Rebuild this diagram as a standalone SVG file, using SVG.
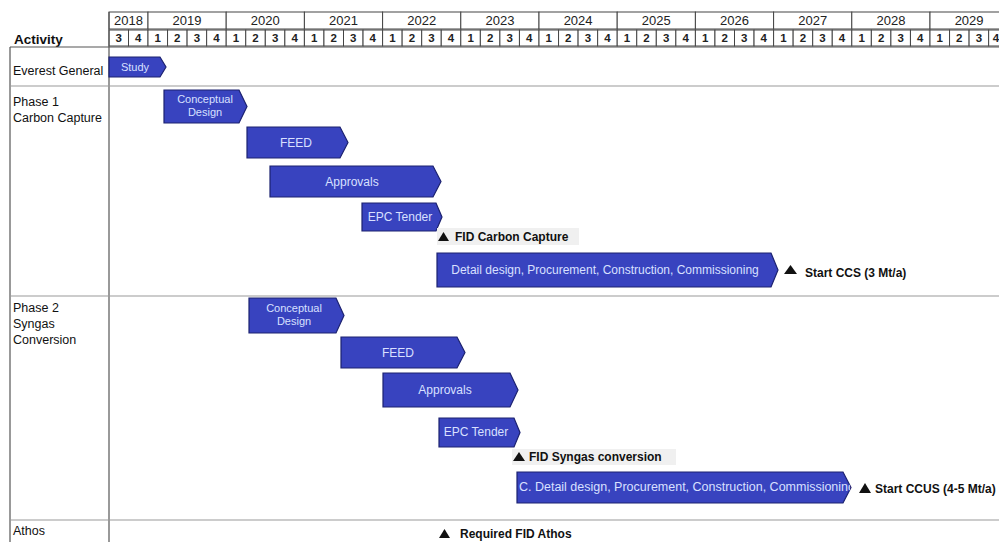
<svg xmlns="http://www.w3.org/2000/svg" width="999" height="542" viewBox="0 0 999 542">
<style>
.bar{fill:#3843bf;stroke:#1c2270;stroke-width:1.2}
.bt{font-family:"Liberation Sans",Arial,sans-serif;font-size:12px;fill:#d9e0ff;text-anchor:middle}
.bt2{font-family:"Liberation Sans",Arial,sans-serif;font-size:11px;fill:#d9e0ff;text-anchor:middle}
.bts{font-family:"Liberation Sans",Arial,sans-serif;font-size:12px;fill:#d9e0ff;text-anchor:start}
.lbl{font-family:"Liberation Sans",Arial,sans-serif;font-size:12.5px;fill:#111}
.ms{font-family:"Liberation Sans",Arial,sans-serif;font-size:12px;font-weight:bold;fill:#111}
.yr{font-family:"Liberation Sans",Arial,sans-serif;font-size:13px;fill:#222;text-anchor:middle}
.q{font-family:"Liberation Sans",Arial,sans-serif;font-size:11.5px;font-weight:bold;fill:#222;text-anchor:middle}
.cell{fill:#fff;stroke:#444;stroke-width:1}
.tri{fill:#111}
.grid{stroke:#555;stroke-width:1.2;fill:none}
.sep{stroke:#999;stroke-width:1.2;fill:none}
</style>
<defs>
<clipPath id="clipP2"><path d="M517,472 H843 L851,487.5 L843,503 H517 Z"/></clipPath>
</defs>
<rect width="999" height="542" fill="#fff"/>

<g id="header">
<text x="14" y="44" class="lbl" style="font-weight:bold;font-size:13.5px">Activity</text>
<rect x="109" y="12" width="39" height="17" class="cell"/>
<text x="128.5" y="25" class="yr">2018</text>
<rect x="148" y="12" width="78.2" height="17" class="cell"/>
<text x="187" y="25" class="yr">2019</text>
<rect x="226.2" y="12" width="78.2" height="17" class="cell"/>
<text x="265.3" y="25" class="yr">2020</text>
<rect x="304.4" y="12" width="78.2" height="17" class="cell"/>
<text x="343.5" y="25" class="yr">2021</text>
<rect x="382.6" y="12" width="78.2" height="17" class="cell"/>
<text x="421.7" y="25" class="yr">2022</text>
<rect x="460.8" y="12" width="78.2" height="17" class="cell"/>
<text x="499.9" y="25" class="yr">2023</text>
<rect x="539" y="12" width="78.2" height="17" class="cell"/>
<text x="578.1" y="25" class="yr">2024</text>
<rect x="617.2" y="12" width="78.2" height="17" class="cell"/>
<text x="656.3" y="25" class="yr">2025</text>
<rect x="695.4" y="12" width="78.2" height="17" class="cell"/>
<text x="734.5" y="25" class="yr">2026</text>
<rect x="773.6" y="12" width="78.2" height="17" class="cell"/>
<text x="812.7" y="25" class="yr">2027</text>
<rect x="851.8" y="12" width="78.2" height="17" class="cell"/>
<text x="890.9" y="25" class="yr">2028</text>
<rect x="930" y="12" width="78.2" height="17" class="cell"/>
<text x="969.1" y="25" class="yr">2029</text>

<g id="quarters">
<rect x="109" y="30" width="19.5" height="16" class="cell"/><text x="118.8" y="42" class="q">3</text>
<rect x="128.5" y="30" width="19.5" height="16" class="cell"/><text x="138.3" y="42" class="q">4</text>
<rect x="148" y="30" width="19.55" height="16" class="cell"/><text x="157.8" y="42" class="q">1</text>
<rect x="167.55" y="30" width="19.55" height="16" class="cell"/><text x="177.3" y="42" class="q">2</text>
<rect x="187.1" y="30" width="19.55" height="16" class="cell"/><text x="196.9" y="42" class="q">3</text>
<rect x="206.65" y="30" width="19.55" height="16" class="cell"/><text x="216.4" y="42" class="q">4</text>
<rect x="226.2" y="30" width="19.55" height="16" class="cell"/><text x="236" y="42" class="q">1</text>
<rect x="245.75" y="30" width="19.55" height="16" class="cell"/><text x="255.5" y="42" class="q">2</text>
<rect x="265.3" y="30" width="19.55" height="16" class="cell"/><text x="275.1" y="42" class="q">3</text>
<rect x="284.85" y="30" width="19.55" height="16" class="cell"/><text x="294.6" y="42" class="q">4</text>
<rect x="304.4" y="30" width="19.55" height="16" class="cell"/><text x="314.2" y="42" class="q">1</text>
<rect x="323.95" y="30" width="19.55" height="16" class="cell"/><text x="333.7" y="42" class="q">2</text>
<rect x="343.5" y="30" width="19.55" height="16" class="cell"/><text x="353.3" y="42" class="q">3</text>
<rect x="363.05" y="30" width="19.55" height="16" class="cell"/><text x="372.8" y="42" class="q">4</text>
<rect x="382.6" y="30" width="19.55" height="16" class="cell"/><text x="392.4" y="42" class="q">1</text>
<rect x="402.15" y="30" width="19.55" height="16" class="cell"/><text x="411.9" y="42" class="q">2</text>
<rect x="421.7" y="30" width="19.55" height="16" class="cell"/><text x="431.5" y="42" class="q">3</text>
<rect x="441.25" y="30" width="19.55" height="16" class="cell"/><text x="451" y="42" class="q">4</text>
<rect x="460.8" y="30" width="19.55" height="16" class="cell"/><text x="470.6" y="42" class="q">1</text>
<rect x="480.35" y="30" width="19.55" height="16" class="cell"/><text x="490.1" y="42" class="q">2</text>
<rect x="499.9" y="30" width="19.55" height="16" class="cell"/><text x="509.7" y="42" class="q">3</text>
<rect x="519.45" y="30" width="19.55" height="16" class="cell"/><text x="529.2" y="42" class="q">4</text>
<rect x="539" y="30" width="19.55" height="16" class="cell"/><text x="548.8" y="42" class="q">1</text>
<rect x="558.55" y="30" width="19.55" height="16" class="cell"/><text x="568.3" y="42" class="q">2</text>
<rect x="578.1" y="30" width="19.55" height="16" class="cell"/><text x="587.9" y="42" class="q">3</text>
<rect x="597.65" y="30" width="19.55" height="16" class="cell"/><text x="607.4" y="42" class="q">4</text>
<rect x="617.2" y="30" width="19.55" height="16" class="cell"/><text x="627" y="42" class="q">1</text>
<rect x="636.75" y="30" width="19.55" height="16" class="cell"/><text x="646.5" y="42" class="q">2</text>
<rect x="656.3" y="30" width="19.55" height="16" class="cell"/><text x="666.1" y="42" class="q">3</text>
<rect x="675.85" y="30" width="19.55" height="16" class="cell"/><text x="685.6" y="42" class="q">4</text>
<rect x="695.4" y="30" width="19.55" height="16" class="cell"/><text x="705.2" y="42" class="q">1</text>
<rect x="714.95" y="30" width="19.55" height="16" class="cell"/><text x="724.7" y="42" class="q">2</text>
<rect x="734.5" y="30" width="19.55" height="16" class="cell"/><text x="744.3" y="42" class="q">3</text>
<rect x="754.05" y="30" width="19.55" height="16" class="cell"/><text x="763.8" y="42" class="q">4</text>
<rect x="773.6" y="30" width="19.55" height="16" class="cell"/><text x="783.4" y="42" class="q">1</text>
<rect x="793.15" y="30" width="19.55" height="16" class="cell"/><text x="802.9" y="42" class="q">2</text>
<rect x="812.7" y="30" width="19.55" height="16" class="cell"/><text x="822.5" y="42" class="q">3</text>
<rect x="832.25" y="30" width="19.55" height="16" class="cell"/><text x="842" y="42" class="q">4</text>
<rect x="851.8" y="30" width="19.55" height="16" class="cell"/><text x="861.6" y="42" class="q">1</text>
<rect x="871.35" y="30" width="19.55" height="16" class="cell"/><text x="881.1" y="42" class="q">2</text>
<rect x="890.9" y="30" width="19.55" height="16" class="cell"/><text x="900.7" y="42" class="q">3</text>
<rect x="910.45" y="30" width="19.55" height="16" class="cell"/><text x="920.2" y="42" class="q">4</text>
<rect x="930" y="30" width="19.55" height="16" class="cell"/><text x="939.8" y="42" class="q">1</text>
<rect x="949.55" y="30" width="19.55" height="16" class="cell"/><text x="959.3" y="42" class="q">2</text>
<rect x="969.1" y="30" width="19.55" height="16" class="cell"/><text x="978.9" y="42" class="q">3</text>
<rect x="988.65" y="30" width="19.55" height="16" class="cell"/><text x="996" y="42" class="q">4</text>
</g>
</g>

<g id="table">
<path class="grid" d="M10,47 H999"/>
<path class="grid" d="M10,47 V542"/>
<path class="grid" d="M109,12 V542"/>
<path class="sep" d="M10,86 H999"/>
<path class="sep" d="M10,296 H999"/>
<path class="sep" d="M10,520 H999"/>
</g>

<g id="row-everest">
<text x="13" y="75" class="lbl">Everest General</text>
</g>
<g id="row-phase1">
<text x="13" y="106" class="lbl">Phase 1</text>
<text x="13" y="122" class="lbl">Carbon Capture</text>
</g>
<g id="row-phase2">
<text x="13" y="312" class="lbl">Phase 2</text>
<text x="13" y="328" class="lbl">Syngas</text>
<text x="13" y="344" class="lbl">Conversion</text>
</g>
<g id="row-athos">
<text x="13" y="535" class="lbl">Athos</text>
</g>

<g id="bar-study">
<path class="bar" d="M109,57 H160 L166,67 L160,77 H109 Z"/>
<text x="135" y="71" class="bt2">Study</text>
</g>
<g id="bar-p1-conceptual">
<path class="bar" d="M164,90 H239 L247,106.5 L239,123 H164 Z"/>
<text x="205" y="103" class="bt2">Conceptual</text>
<text x="205" y="116" class="bt2">Design</text>
</g>
<g id="bar-p1-feed">
<path class="bar" d="M247,127 H340 L348,142.5 L340,158 H247 Z"/>
<text x="296" y="147" class="bt">FEED</text>
</g>
<g id="bar-p1-approvals">
<path class="bar" d="M270,166 H433 L441,181.5 L433,197 H270 Z"/>
<text x="352" y="186" class="bt">Approvals</text>
</g>
<g id="bar-p1-epc">
<path class="bar" d="M362,203 H436 L442,217 L436,231 H362 Z"/>
<text x="400" y="221" class="bt">EPC Tender</text>
</g>
<g id="ms-fid-cc">
<rect x="437" y="228" width="142" height="17" fill="#f0f0f0"/>
<path class="tri" d="M438,241 L443.5,232 L449,241 Z"/>
<text x="455" y="241" class="ms">FID Carbon Capture</text>
</g>
<g id="bar-p1-detail">
<path class="bar" d="M437,253 H771 L778,270 L771,287 H437 Z"/>
<text x="605" y="274" class="bt">Detail design, Procurement, Construction, Commissioning</text>
</g>
<g id="ms-start-ccs">
<path class="tri" d="M784,274 L790.5,265 L797,274 Z"/>
<text x="805" y="277" class="ms">Start CCS (3 Mt/a)</text>
</g>

<g id="bar-p2-conceptual">
<path class="bar" d="M249,298 H336 L344,315.5 L336,333 H249 Z"/>
<text x="294" y="312" class="bt2">Conceptual</text>
<text x="294" y="325" class="bt2">Design</text>
</g>
<g id="bar-p2-feed">
<path class="bar" d="M341,337 H457 L465,352.5 L457,368 H341 Z"/>
<text x="398" y="357" class="bt">FEED</text>
</g>
<g id="bar-p2-approvals">
<path class="bar" d="M383,373 H510 L518,390 L510,407 H383 Z"/>
<text x="445" y="394" class="bt">Approvals</text>
</g>
<g id="bar-p2-epc">
<path class="bar" d="M439,418 H514 L520,432.5 L514,447 H439 Z"/>
<text x="476" y="436" class="bt">EPC Tender</text>
</g>
<g id="ms-fid-syngas">
<rect x="512" y="449" width="164" height="16" fill="#f0f0f0"/>
<path class="tri" d="M513,461 L519,452 L525,461 Z"/>
<text x="529" y="461" class="ms">FID Syngas conversion</text>
</g>
<g id="bar-p2-detail">
<path class="bar" d="M517,472 H843 L851,487.5 L843,503 H517 Z"/>
<g clip-path="url(#clipP2)">
<text x="519" y="491" class="bts" textLength="336" lengthAdjust="spacingAndGlyphs">C. Detail design, Procurement, Construction, Commissioning</text>
</g>
</g>
<g id="ms-start-ccus">
<path class="tri" d="M859,493 L865,483 L871,493 Z"/>
<text x="875" y="493" class="ms">Start CCUS (4-5 Mt/a)</text>
</g>

<g id="ms-fid-athos">
<path class="tri" d="M439,538 L444.5,529 L450,538 Z"/>
<text x="460" y="538" class="ms">Required FID Athos</text>
</g>
<g id="connectors"></g>
</svg>
